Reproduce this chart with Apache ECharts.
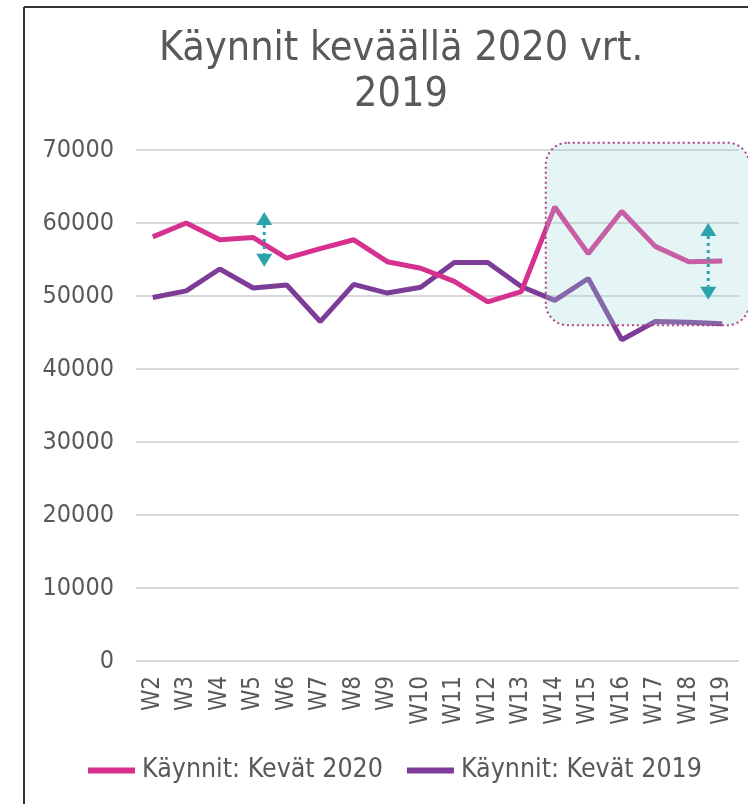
<!DOCTYPE html>
<html>
<head>
<meta charset="utf-8">
<script src="https://cdn.jsdelivr.net/npm/echarts@6/dist/echarts.min.js"></script>
<style>
html,body{margin:0;padding:0;background:#fff;}
#c{width:748px;height:804px;}
</style>
</head>
<body>
<div id="c"></div>
<script>
const categories = ['W2','W3','W4','W5','W6','W7','W8','W9','W10','W11','W12','W13','W14','W15','W16','W17','W18','W19'];
const kevat2020 = [58100,60000,57700,58000,55200,56500,57700,54700,53800,52000,49200,50600,62200,55800,61600,56800,54700,54800];
const kevat2019 = [49800,50700,53700,51100,51500,46500,51600,50400,51200,54600,54600,51300,49400,52400,44000,46500,46400,46200];
const seriesNames = ['Käynnit: Kevät 2020','Käynnit: Kevät 2019'];
const titleText = 'Käynnit keväällä 2020 vrt.\n2019';
// highlight region (category range and value range) and arrows (category, from, to)
const highlightCats = ['W14','W19'];
const highlightVals = [46000, 71000];
const arrows = [['W5', 61500, 54000], ['W19', 60000, 49500]];

const chart = echarts.init(document.getElementById('c'));
const FONT = '"DejaVu Sans Condensed", "DejaVu Sans"';
const PINK = '#d6318f';
const PURPLE = '#7c3c97';
const TEAL = '#2aa3ab';

chart.setOption({
  animation: false,
  backgroundColor: '#ffffff',
  title: {
    text: titleText,
    left: 396, top: 21, textAlign: 'center',
    textStyle: { fontFamily: FONT, fontSize: 41, fontWeight: 'normal', color: '#595959', lineHeight: 46 }
  },
  legend: {
    data: seriesNames,
    bottom: 20, left: 88, padding: 0,
    itemWidth: 47, itemHeight: 6, itemGap: 24,
    icon: 'rect',
    textStyle: { fontFamily: FONT, fontSize: 26.5, color: '#595959', padding: [0, 0, 0, 2] }
  },
  grid: { left: 136, right: 9, top: 150, bottom: 143 },
  xAxis: {
    type: 'category', data: categories, boundaryGap: true,
    axisLine: { show: false }, axisTick: { show: false },
    axisLabel: { rotate: 90, fontFamily: FONT, fontSize: 24, color: '#595959', margin: 15 }
  },
  yAxis: {
    type: 'value', min: 0, max: 70000, interval: 10000,
    axisLine: { show: false }, axisTick: { show: false },
    axisLabel: { fontFamily: FONT, fontSize: 25, color: '#595959', margin: 22, formatter: v => String(v) },
    splitLine: { lineStyle: { color: '#d9d9d9', width: 2 } }
  },
  series: [
    { name: seriesNames[0], type: 'line', data: kevat2020, symbol: 'none', lineStyle: { color: PINK, width: 5 }, itemStyle: { color: PINK }, z: 3 },
    { name: seriesNames[1], type: 'line', data: kevat2019, symbol: 'none', lineStyle: { color: PURPLE, width: 5 }, itemStyle: { color: PURPLE }, z: 2 }
  ]
});

function drawOverlays() {
  const g = [];
  // frame
  g.push({ type: 'line', shape: { x1: 24, y1: 7, x2: 24, y2: 804 }, style: { stroke: '#333', lineWidth: 2 }, silent: true });
  g.push({ type: 'line', shape: { x1: 24, y1: 7, x2: 748, y2: 7 }, style: { stroke: '#333', lineWidth: 2 }, silent: true });
  // highlight box
  const p1 = chart.convertToPixel({ gridIndex: 0 }, [highlightCats[0], highlightVals[1]]);
  const p2 = chart.convertToPixel({ gridIndex: 0 }, [highlightCats[1], highlightVals[0]]);
  const x0 = p1[0] - 9, y0 = p1[1], x1 = p2[0] + 27, y1 = p2[1];
  g.push({ type: 'rect', z: 100, silent: true,
    shape: { x: x0, y: y0, width: x1 - x0, height: y1 - y0, r: 22 },
    style: { fill: 'rgba(160,215,220,0.28)', stroke: '#b0407e', lineWidth: 2, lineDash: [2, 3] } });
  // arrows
  arrows.forEach(a => {
    const t = chart.convertToPixel({ gridIndex: 0 }, [a[0], a[1]]);
    const b = chart.convertToPixel({ gridIndex: 0 }, [a[0], a[2]]);
    const x = t[0] - 14 + (a[0] === 'W5' ? 25 : 0);
    const hx = 8, hy = 13;
    g.push({ type: 'line', z: 101, silent: true, shape: { x1: x, y1: t[1] + hy, x2: x, y2: b[1] - hy }, style: { stroke: TEAL, lineWidth: 3, lineDash: [3, 4] } });
    g.push({ type: 'polygon', z: 101, silent: true, shape: { points: [[x, t[1]], [x - hx, t[1] + hy], [x + hx, t[1] + hy]] }, style: { fill: TEAL } });
    g.push({ type: 'polygon', z: 101, silent: true, shape: { points: [[x, b[1]], [x - hx, b[1] - hy], [x + hx, b[1] - hy]] }, style: { fill: TEAL } });
  });
  chart.setOption({ graphic: g });
}
drawOverlays();
</script>
</body>
</html>
